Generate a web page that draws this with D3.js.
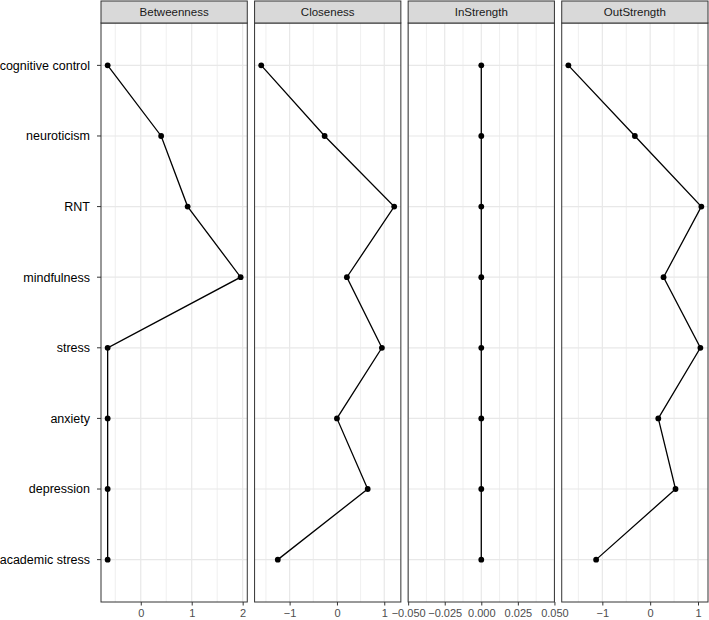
<!DOCTYPE html>
<html lang="en">
<head>
<meta charset="UTF-8">
<title>Centrality plot</title>
<script src="https://d3js.org/d3.v7.min.js"></script>
<style>
  body { margin: 0; background: white; font-family: "Liberation Sans", Arial, Helvetica, sans-serif; }
</style>
</head>
<body>
<div id="chart"></div>
<script>
// nodes, top to bottom
var nodes = ["cognitive control", "neuroticism", "RNT", "mindfulness",
             "stress", "anxiety", "depression", "academic stress"];

// centrality values (z-scores) per measure, same order as nodes
var betweenness = [-0.65, 0.40, 0.92, 1.96, -0.65, -0.65, -0.65, -0.65];
var closeness   = [-1.60, -0.26, 1.21, 0.21, 0.95, 0.00, 0.65, -1.25];
var inStrength  = [0, 0, 0, 0, 0, 0, 0, 0];
var outStrength = [-1.71, -0.32, 1.07, 0.28, 1.05, 0.17, 0.53, -1.13];

// tick labels per panel
var betweennessTicks = [0, 1, 2];
var closenessTicks   = [-1, 0, 1];
var inStrengthTicks  = [-0.05, -0.025, 0, 0.025, 0.05];
var outStrengthTicks = [-1, 0, 1];

var panels = [
  {name: "Betweenness", values: betweenness, ticks: betweennessTicks, fmt: d3.format("d")},
  {name: "Closeness",   values: closeness,   ticks: closenessTicks,   fmt: d3.format("d")},
  {name: "InStrength",  values: inStrength,  ticks: inStrengthTicks,  fmt: d3.format(".3f")},
  {name: "OutStrength", values: outStrength, ticks: outStrengthTicks, fmt: d3.format("d")}
];

var width = 709, height = 620;
var left = 101, gap = 7.3, right = 708;
var panelW = (right - left - gap * 3) / 4;
var stripTop = 1, stripH = 22;
var panelTop = stripTop + stripH, panelBottom = 602;

var svg = d3.select("#chart").append("svg")
  .attr("width", width)
  .attr("height", height);

var y = d3.scalePoint()
  .domain(nodes)
  .range([panelTop, panelBottom])
  .padding(0.6);

// y axis labels (left of first panel)
var yAxis = svg.append("g");
nodes.forEach(function(n) {
  yAxis.append("line")
    .attr("x1", left - 4).attr("x2", left)
    .attr("y1", y(n)).attr("y2", y(n))
    .attr("stroke", "#333").attr("stroke-width", 1);
  yAxis.append("text")
    .attr("x", left - 11)
    .attr("y", y(n))
    .attr("dy", "0.35em")
    .attr("text-anchor", "end")
    .style("font-size", "12.5px")
    .style("fill", "#000")
    .text(n);
});

panels.forEach(function(p, i) {
  var x0 = left + i * (panelW + gap);
  var ext = d3.extent(p.values);
  var dom;
  if (ext[0] === ext[1]) {
    dom = [ext[0] - 0.05, ext[1] + 0.05];
  } else {
    var pad = (ext[1] - ext[0]) * 0.05;
    dom = [ext[0] - pad, ext[1] + pad];
  }
  var x = d3.scaleLinear().domain(dom).range([x0, x0 + panelW]);

  var g = svg.append("g");

  // panel background
  g.append("rect")
    .attr("x", x0).attr("y", panelTop)
    .attr("width", panelW).attr("height", panelBottom - panelTop)
    .attr("fill", "white");

  // minor grid: midpoints between major ticks
  var step = p.ticks[1] - p.ticks[0];
  var minors = [];
  for (var k = -1; k < p.ticks.length; k++) {
    var m = p.ticks[0] + (k + 0.5) * step;
    if (m >= dom[0] && m <= dom[1]) minors.push(m);
  }
  g.selectAll(".minor").data(minors).enter().append("line")
    .attr("x1", function(d) { return x(d); })
    .attr("x2", function(d) { return x(d); })
    .attr("y1", panelTop).attr("y2", panelBottom)
    .attr("stroke", "#ebebeb").attr("stroke-width", 0.8);

  // major grid
  g.selectAll(".major").data(p.ticks).enter().append("line")
    .attr("x1", function(d) { return x(d); })
    .attr("x2", function(d) { return x(d); })
    .attr("y1", panelTop).attr("y2", panelBottom)
    .attr("stroke", "#e8e8e8").attr("stroke-width", 1.2);
  g.selectAll(".hgrid").data(nodes).enter().append("line")
    .attr("x1", x0).attr("x2", x0 + panelW)
    .attr("y1", function(d) { return y(d); })
    .attr("y2", function(d) { return y(d); })
    .attr("stroke", "#e8e8e8").attr("stroke-width", 1.2);

  // line and points
  var pts = nodes.map(function(n, j) { return {node: n, v: p.values[j]}; });
  var line = d3.line()
    .x(function(d) { return x(d.v); })
    .y(function(d) { return y(d.node); });
  g.append("path")
    .datum(pts)
    .attr("d", line)
    .attr("fill", "none")
    .attr("stroke", "#000")
    .attr("stroke-width", 1.3);
  g.selectAll("circle").data(pts).enter().append("circle")
    .attr("cx", function(d) { return x(d.v); })
    .attr("cy", function(d) { return y(d.node); })
    .attr("r", 2.9)
    .attr("fill", "#000");

  // panel border
  g.append("rect")
    .attr("x", x0).attr("y", panelTop)
    .attr("width", panelW).attr("height", panelBottom - panelTop)
    .attr("fill", "none").attr("stroke", "#333").attr("stroke-width", 1);

  // strip
  g.append("rect")
    .attr("x", x0).attr("y", stripTop)
    .attr("width", panelW).attr("height", stripH)
    .attr("fill", "#d9d9d9").attr("stroke", "#333").attr("stroke-width", 1);
  g.append("text")
    .attr("x", x0 + panelW / 2)
    .attr("y", stripTop + stripH / 2)
    .attr("dy", "0.35em")
    .attr("text-anchor", "middle")
    .style("font-size", "11.5px")
    .style("fill", "#1a1a1a")
    .text(p.name);

  // x axis
  var ax = g.append("g")
    .attr("transform", "translate(0," + panelBottom + ")")
    .call(d3.axisBottom(x).tickValues(p.ticks).tickFormat(p.fmt).tickSize(3.5).tickPadding(4));
  ax.select(".domain").remove();
  ax.selectAll(".tick line").attr("stroke", "#333");
  ax.selectAll(".tick text")
    .style("font-size", "11px")
    .style("font-family", "'Liberation Sans', Arial, sans-serif")
    .attr("fill", "#4d4d4d");
});
</script>
</body>
</html>
